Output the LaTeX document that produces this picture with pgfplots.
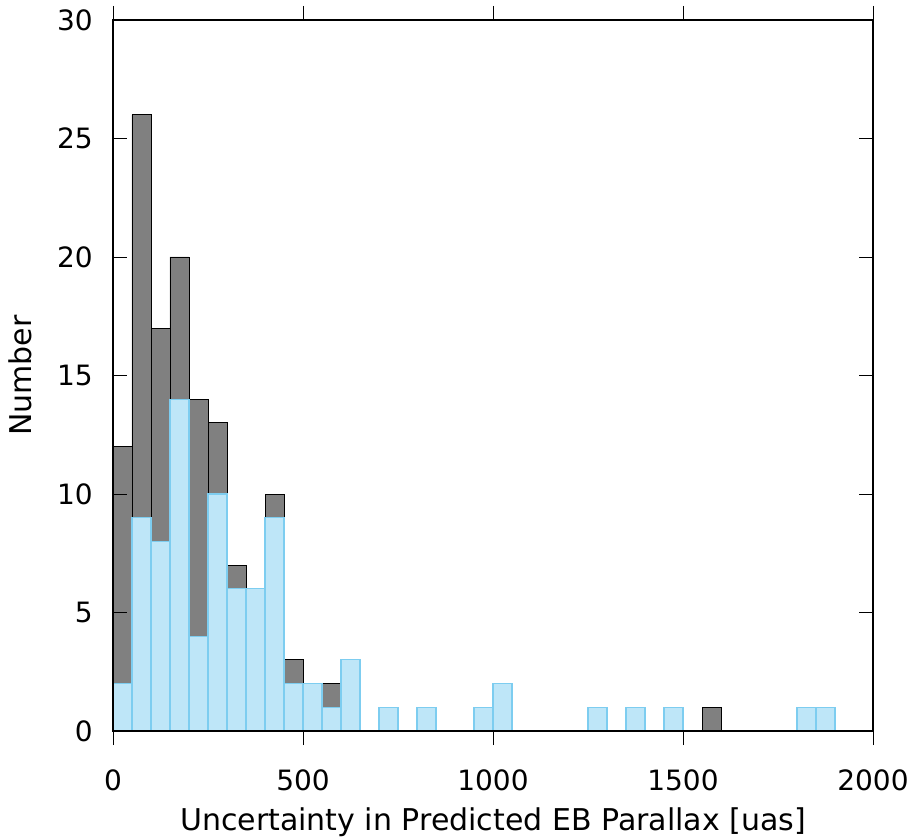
\documentclass[border=0pt]{standalone}
\usepackage{fontspec}
\setmainfont{DejaVu Sans}
\usepackage{pgfplots}
\pgfplotsset{compat=1.18}
\definecolor{allfill}{RGB}{128,128,128}
\definecolor{subfill}{RGB}{190,230,248}
\definecolor{subedge}{RGB}{125,205,240}
\begin{document}
\begin{tikzpicture}
\begin{axis}[
  name=ax,
  scale only axis=true,
  width=760bp, height=711bp,
  xmin=0, xmax=2000, ymin=0, ymax=30,
  xtick={0,500,...,2000}, ytick={0,5,...,30},
  tick align=inside,
  major tick length=14bp,
  tick style={black, line width=1pt},
  axis line style={black, line width=1.1pt},
  axis on top,
  ticklabel style={font=\fontsize{28bp}{32bp}\selectfont, inner sep=0pt},
  label style={font=\fontsize{30bp}{34bp}\selectfont},
  /pgf/number format/assume math mode=true,
  /pgf/number format/1000 sep={},
  xticklabel style={anchor=north},
  xticklabel shift=25bp,
  yticklabel style={anchor=east},
  yticklabel shift=20bp,
  xlabel={Uncertainty in Predicted EB Parallax [uas]},
  ylabel={Number},
  xlabel style={at={(axis description cs:0.5,-0.13924)}, anchor=base},
  ylabel style={at={(axis description cs:-0.10658,0.5)}, anchor=base, rotate=0},
  ybar, bar width=50, bar shift=0pt,
]
% all systems
\addplot[fill=allfill, draw=black, line width=1pt, bar shift=0pt] coordinates {
  (25,12) (75,26) (125,17) (175,20) (225,14) (275,13) (325,7) (375,6)
  (425,10) (475,3) (525,2) (575,2) (625,3) (1575,1)
};
% subset
\addplot[fill=subfill, draw=subedge, line width=1.2pt, bar shift=0pt] coordinates {
  (25,2) (75,9) (125,8) (175,14) (225,4) (275,10) (325,6) (375,6)
  (425,9) (475,2) (525,2) (575,1) (625,3) (725,1) (825,1) (975,1)
  (1025,2) (1275,1) (1375,1) (1475,1) (1825,1) (1875,1)
};
\end{axis}
\pgfresetboundingbox
\path[use as bounding box] ([shift={(-113bp,-107bp)}]ax.south west)
  rectangle ([shift={(40bp,20bp)}]ax.north east);
\end{tikzpicture}
\end{document}
